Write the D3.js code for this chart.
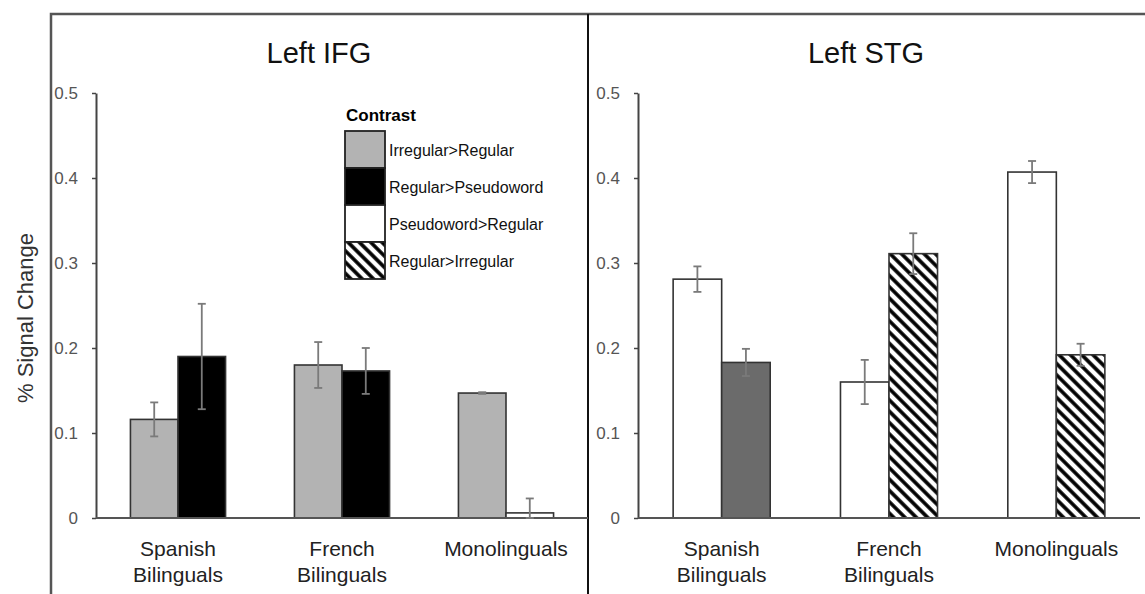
<!DOCTYPE html>
<html>
<head>
<meta charset="utf-8">
<script src="https://cdn.jsdelivr.net/npm/d3@7"></script>
<style>
  body { margin: 0; background: #fff; }
  svg { display: block; font-family: Arial, "Liberation Sans", sans-serif; }
</style>
</head>
<body>
<svg id="chart" width="1145" height="594"></svg>
<script>
// groups on the x axis (two text lines each)
const groups = ['Spanish Bilinguals', 'French Bilinguals', 'Monolinguals'];
const groupLines = [['Spanish', 'Bilinguals'], ['French', 'Bilinguals'], ['Monolinguals']];

// y ticks
const yTicks = [0, 0.1, 0.2, 0.3, 0.4, 0.5];

// legend entries
const contrasts = ['Irregular>Regular', 'Regular>Pseudoword', 'Pseudoword>Regular', 'Regular>Irregular'];

// Left IFG values (% signal change) and error bars
const ifgIrrReg = [0.116, 0.180, 0.147];
const ifgIrrRegErr = [0.020, 0.027, 0.001];
const ifgRegPseudo = [0.190, 0.173, 0.006];
const ifgRegPseudoErr = [0.062, 0.027, 0.017];
const ifgRegPseudoHollow = [false, false, true];

// Left STG values and error bars
const stgPseudoReg = [0.281, 0.160, 0.407];
const stgPseudoRegErr = [0.015, 0.026, 0.013];
const stgRegIrr = [0.183, 0.311, 0.192];
const stgRegIrrErr = [0.016, 0.024, 0.013];
const stgRegIrrSolid = [true, false, false];

const svg = d3.select('#chart');

// hatch pattern
const defs = svg.append('defs');
defs.append('pattern')
    .attr('id', 'hatch')
    .attr('patternUnits', 'userSpaceOnUse')
    .attr('width', 8).attr('height', 8)
    .attr('patternTransform', 'rotate(-45)')
  .call(p => {
    p.append('rect').attr('width', 8).attr('height', 8).attr('fill', '#fff');
    p.append('line').attr('x1', 2).attr('x2', 2).attr('y1', 0).attr('y2', 8)
      .attr('stroke', '#000').attr('stroke-width', 3.6);
  });

function fillFor(d) {
  if (d.hollow) return '#fff';
  if (d.solid) return '#6b6b6b';
  if (d.contrast === 'Irregular>Regular') return '#b3b3b3';
  if (d.contrast === 'Regular>Pseudoword') return '#000';
  if (d.contrast === 'Pseudoword>Regular') return '#fff';
  return 'url(#hatch)';
}

// frame
svg.append('path')
   .attr('d', 'M51,594V14H1145')
   .attr('fill', 'none').attr('stroke', '#555').attr('stroke-width', 2.5);
svg.append('line')
   .attr('x1', 588).attr('x2', 588).attr('y1', 14).attr('y2', 594)
   .attr('stroke', '#111').attr('stroke-width', 2);

const y = d3.scaleLinear().domain([0, 0.5]).range([518, 93]);

function drawPanel(opt) {
  const g = svg.append('g');

  const x0 = d3.scaleBand().domain(groups).range([opt.left, opt.right])
               .paddingInner(0.42).paddingOuter(0.21);
  const x1 = d3.scaleBand().domain([0, 1]).range([0, x0.bandwidth()]);

  // title
  g.append('text')
   .attr('x', opt.center).attr('y', 63)
   .attr('text-anchor', 'middle')
   .attr('font-size', 29).attr('fill', '#111')
   .text(opt.title);

  // y axis
  const yAxis = g.append('g')
    .attr('transform', `translate(${opt.left},0)`)
    .call(d3.axisLeft(y).tickValues(yTicks).tickSize(4).tickSizeOuter(0).tickPadding(14)
      .tickFormat(d => d === 0 ? '0' : d3.format('.1f')(d)));
  yAxis.select('.domain').attr('stroke', '#444').attr('stroke-width', 2);
  yAxis.selectAll('.tick line').attr('stroke', '#444').attr('stroke-width', 1.5);
  yAxis.selectAll('.tick text').attr('font-size', 17).attr('fill', '#555')
       .attr('font-family', 'Arial, "Liberation Sans", sans-serif');

  // bars
  const bars = [];
  groups.forEach((grp, i) => {
    opt.series.forEach((s, j) => {
      bars.push({
        group: grp, idx: j, contrast: s.contrast,
        value: s.values[i], err: s.errs[i],
        hollow: s.hollow ? s.hollow[i] : false,
        solid: s.solid ? s.solid[i] : false
      });
    });
  });

  g.selectAll('rect.bar')
   .data(bars).enter().append('rect')
   .attr('class', 'bar')
   .attr('x', d => x0(d.group) + x1(d.idx))
   .attr('width', x1.bandwidth())
   .attr('y', d => y(d.value))
   .attr('height', d => y(0) - y(d.value))
   .attr('fill', fillFor)
   .attr('stroke', '#333').attr('stroke-width', 1.6);

  // x axis line
  g.append('line')
   .attr('x1', opt.left).attr('x2', opt.axisEnd)
   .attr('y1', y(0)).attr('y2', y(0))
   .attr('stroke', '#555').attr('stroke-width', 2);

  // error bars
  const eb = g.selectAll('g.err').data(bars).enter().append('g')
    .attr('class', 'err')
    .attr('stroke', '#7a7a7a').attr('stroke-width', 1.8);
  const cx = d => x0(d.group) + x1(d.idx) + x1.bandwidth() / 2;
  const lo = d => y(Math.max(0, d.value - d.err));
  const hi = d => y(d.value + d.err);
  eb.append('line').attr('x1', cx).attr('x2', cx).attr('y1', lo).attr('y2', hi);
  eb.append('line').attr('x1', d => cx(d) - 4).attr('x2', d => cx(d) + 4).attr('y1', hi).attr('y2', hi);
  eb.append('line').attr('x1', d => cx(d) - 4).attr('x2', d => cx(d) + 4).attr('y1', lo).attr('y2', lo);

  // group labels
  groups.forEach((grp, i) => {
    const t = g.append('text')
      .attr('x', x0(grp) + x0.bandwidth() / 2).attr('y', 556)
      .attr('text-anchor', 'middle')
      .attr('font-size', 21).attr('fill', '#222');
    groupLines[i].forEach((line, k) => {
      t.append('tspan').attr('x', x0(grp) + x0.bandwidth() / 2)
       .attr('dy', k === 0 ? 0 : 26).text(line);
    });
  });
}

drawPanel({
  title: 'Left IFG', center: 319, left: 96, right: 588, axisEnd: 588,
  series: [
    { contrast: contrasts[0], values: ifgIrrReg, errs: ifgIrrRegErr },
    { contrast: contrasts[1], values: ifgRegPseudo, errs: ifgRegPseudoErr, hollow: ifgRegPseudoHollow }
  ]
});

drawPanel({
  title: 'Left STG', center: 866, left: 638, right: 1140, axisEnd: 1140,
  series: [
    { contrast: contrasts[2], values: stgPseudoReg, errs: stgPseudoRegErr },
    { contrast: contrasts[3], values: stgRegIrr, errs: stgRegIrrErr, solid: stgRegIrrSolid }
  ]
});

// y axis title
svg.append('text')
   .attr('transform', 'translate(33,318) rotate(-90)')
   .attr('text-anchor', 'middle')
   .attr('font-size', 22).attr('fill', '#333')
   .text('% Signal Change');

// legend
const legend = svg.append('g').attr('transform', 'translate(345,131)');
legend.append('text')
  .attr('x', 1).attr('y', -10)
  .attr('font-size', 17).attr('font-weight', 'bold').attr('fill', '#000')
  .text('Contrast');
const sw = 40, sh = 37;
const item = legend.selectAll('g.item').data(contrasts).enter().append('g')
  .attr('class', 'item')
  .attr('transform', (d, i) => `translate(0,${i * sh})`);
item.append('rect')
  .attr('width', sw).attr('height', sh)
  .attr('fill', d => fillFor({ contrast: d }))
  .attr('stroke', '#222').attr('stroke-width', 1.8);
item.append('text')
  .attr('x', sw + 4).attr('y', sh / 2 + 6)
  .attr('font-size', 16).attr('fill', '#111')
  .text(d => d);
</script>
</body>
</html>
